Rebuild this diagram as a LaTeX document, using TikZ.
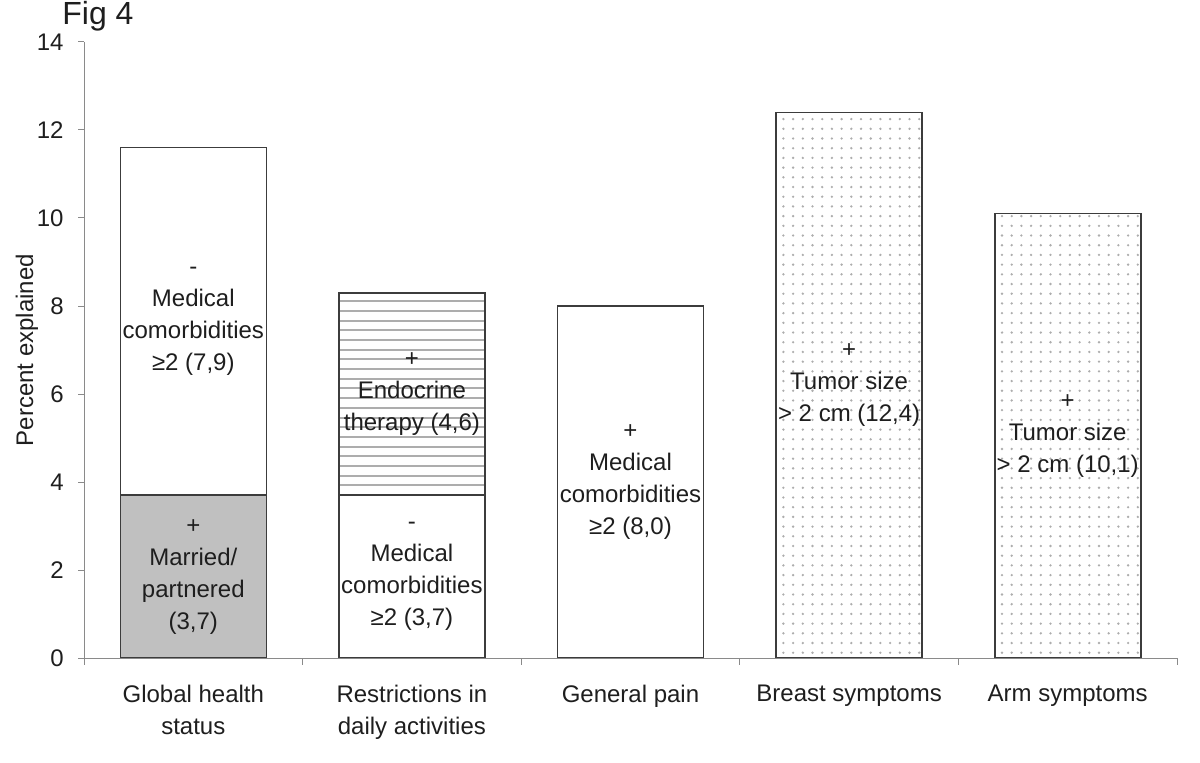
\documentclass[tikz,border=0pt]{standalone}
\usepackage{fontspec}
\setmainfont{Liberation Sans}
\usepackage{tikz}
\definecolor{axisgray}{HTML}{8A8A8A}
\definecolor{bargray}{HTML}{3C3C3C}
\definecolor{marriedfill}{HTML}{C0C0C0}
\definecolor{inkgray}{HTML}{1E1E1E}
\definecolor{patgray}{HTML}{ADADAD}
\def\barwidth{146}
\def\catwidth{218.6}
\def\pitch{0.2205}
\tikzset{
  axis/.style={draw=axisgray, line width=0.5pt},
  barbox/.style={draw=bargray, line width=0.8pt},
  hatchline/.style={draw=patgray, line width=1pt},
  dotmark/.style={fill=patgray},
  lbl/.style={text=inkgray, align=center, inner sep=0pt, font=\fontsize{12}{16}\selectfont},
}

\begin{document}
\begin{tikzpicture}[x=0.5pt, y=0.5pt]
    \useasboundingbox (0,0) rectangle (1200,762);
    \node[lbl, anchor=base west, font=\fontsize{16}{18}\selectfont] (fig) at (62,737) {Fig 4};

    \begin{scope}[shift={(84,104)}, y=22pt]
    % bars
    \filldraw[barbox, fill=white] (36.3,3.7) rectangle ++(\barwidth,7.9);
    \filldraw[barbox, fill=marriedfill] (36.3,0) rectangle ++(\barwidth,3.7);
    \foreach \k in {1,...,20}
        \draw[hatchline] (254.9,3.7+\k*\pitch) -- ++(\barwidth,0);
    \draw[barbox] (254.9,3.7) rectangle ++(\barwidth,4.6);
    \filldraw[barbox, fill=white] (254.9,0) rectangle ++(\barwidth,3.7);
    \filldraw[barbox, fill=white] (473.5,0) rectangle ++(\barwidth,8.0);
    \foreach \bx/\h in {692.1/12.4, 910.7/10.1} {
        \begin{scope}
            \clip (\bx,0) rectangle ++(\barwidth,\h);
            \foreach \i in {0,...,14}
                \foreach \j in {0,...,56}
                    \fill[dotmark] (\bx+7.3+\i*9.7,0.12+\j*\pitch) circle (0.65pt);
        \end{scope}
        \draw[barbox] (\bx,0) rectangle ++(\barwidth,\h);
    }

    % axes
    \draw[axis] (0,14) -- (0,0) -- (1093,0);
    \foreach \v in {0,2,...,14} {
        \draw[axis] (-6,\v) -- (0,\v);
        \node[lbl, anchor=east] (ytick\v) at (-20,\v) {\v};
    }
    \foreach \i in {0,...,5}
        \draw[axis] (\i*\catwidth,0) -- ++(0,-3.5pt);
    \node[lbl, rotate=90] (ylabel) at (-57,7) {Percent explained};

    % category labels
    \foreach \c/\name/\txt in {0/global/{Global health\\status},
                               1/restrict/{Restrictions in\\daily activities},
                               2/pain/{General pain},
                               3/breast/{Breast symptoms},
                               4/arm/{Arm symptoms}}
        \node[lbl, anchor=north, yshift=-13.5pt] (cat\name) at (\c*\catwidth+109.3,0) {\txt};

    % segment labels
    \node[lbl] (globalUpper) at (109.3,7.65) {-\\Medical\\comorbidities\\≥2 (7,9)};
    \node[lbl] (globalLower) at (109.3,1.85) {+\\Married/\\partnered\\(3,7)};
    \node[lbl] (restrictUpper) at (327.9,6.0) {+\\Endocrine\\therapy (4,6)};
    \node[lbl] (restrictLower) at (327.9,1.85) {-\\Medical\\comorbidities\\≥2 (3,7)};
    \node[lbl] (painBar) at (546.5,4.0) {+\\Medical\\comorbidities\\≥2 (8,0)};
    \node[lbl] (breastBar) at (765.1,6.2) {+\\Tumor size\\> 2 cm (12,4)};
    \node[lbl] (armBar) at (983.7,5.05) {+\\Tumor size\\> 2 cm (10,1)};
    \end{scope}
\end{tikzpicture}
\end{document}
